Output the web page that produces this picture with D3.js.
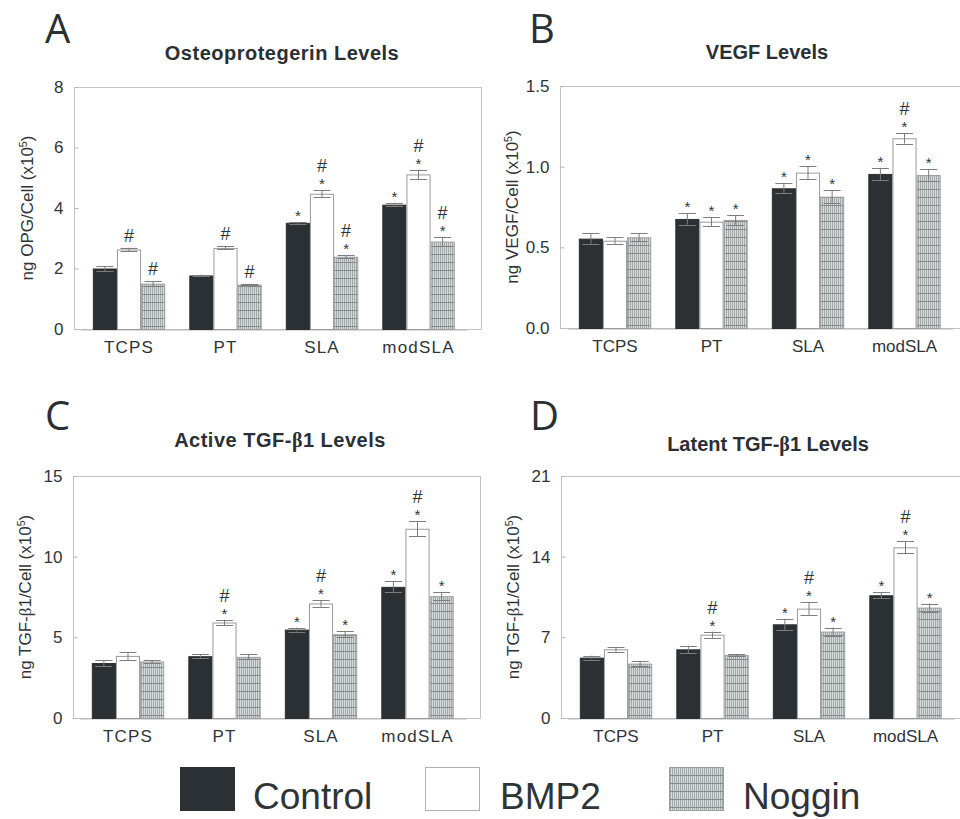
<!DOCTYPE html>
<html>
<head>
<meta charset="utf-8">
<script src="https://cdnjs.cloudflare.com/ajax/libs/d3/7.8.5/d3.min.js"></script>
<style>
  body { margin: 0; background: #fff; }
  text { font-family: "Liberation Sans", Arial, sans-serif; }
</style>
</head>
<body>
<div id="chart"></div>
<script>
// categories and groups
var categories = ["TCPS", "PT", "SLA", "modSLA"];
var series = ["Control", "BMP2", "Noggin"];

// each row = one category, [Control, BMP2, Noggin]
var opgMean = [[2.00, 2.63, 1.50], [1.77, 2.68, 1.47], [3.51, 4.47, 2.39], [4.11, 5.11, 2.89]];
var opgErr  = [[0.08, 0.06, 0.08], [0.03, 0.05, 0.03], [0.03, 0.11, 0.05], [0.06, 0.16, 0.16]];
var opgMarks = [["", "#", "#"], ["", "#", "#"], ["*", "*#", "*#"], ["*", "*#", "*#"]];

var vegfMean = [[0.554, 0.541, 0.562], [0.676, 0.659, 0.670], [0.866, 0.963, 0.814], [0.955, 1.176, 0.948]];
var vegfErr  = [[0.033, 0.020, 0.025], [0.035, 0.027, 0.030], [0.031, 0.040, 0.041], [0.037, 0.033, 0.035]];
var vegfMarks = [["", "", ""], ["*", "*", "*"], ["*", "*", "*"], ["*", "*#", "*"]];

var activeMean = [[3.41, 3.85, 3.50], [3.83, 5.92, 3.79], [5.48, 7.10, 5.19], [8.13, 11.73, 7.55]];
var activeErr  = [[0.20, 0.25, 0.10], [0.14, 0.17, 0.15], [0.12, 0.20, 0.20], [0.35, 0.45, 0.23]];
var activeMarks = [["", "", ""], ["", "*#", ""], ["*", "*#", "*"], ["*", "*#", "*"]];

var latentMean = [[5.24, 5.96, 4.72], [5.96, 7.23, 5.47], [8.13, 9.49, 7.50], [10.65, 14.81, 9.58]];
var latentErr  = [[0.17, 0.23, 0.23], [0.32, 0.26, 0.09], [0.49, 0.55, 0.35], [0.26, 0.52, 0.35]];
var latentMarks = [["", "", ""], ["", "*#", ""], ["*", "*#", "*"], ["*", "*#", "*"]];

// tick labels
var opgTicks = [0, 2, 4, 6, 8];
var vegfTicks = [0, 0.5, 1.0, 1.5];
var activeTicks = [0, 5, 10, 15];
var latentTicks = [0, 7, 14, 21];

var svgWidth = 960;
var svgHeight = 819;

var svg = d3.select("#chart")
  .append("svg")
  .attr("width", svgWidth)
  .attr("height", svgHeight);

var darkFill = "#2a3033";
var textColor = "#2f3437";

// Noggin fill: fine grey grid
var defs = svg.append("defs");
var pat = defs.append("pattern")
  .attr("id", "grid")
  .attr("patternUnits", "userSpaceOnUse")
  .attr("width", 2)
  .attr("height", 8);
pat.append("rect").attr("width", 2).attr("height", 8).attr("fill", "#d6dada");
pat.append("rect").attr("width", 1).attr("height", 8).attr("fill", "#a2a9a9");
pat.append("rect").attr("y", 7).attr("width", 2).attr("height", 1).attr("fill", "#838a8a");

var fills = [darkFill, "#ffffff", "url(#grid)"];
var strokes = [darkFill, "#9a9a9a", "#9a9f9f"];

var panels = [
  { letter: "A", title: "Osteoprotegerin Levels", ylabel: "ng OPG/Cell (x10^5)",
    mean: opgMean, err: opgErr, marks: opgMarks, ticks: opgTicks, fmt: d3.format("d"),
    left: 74, top: 87, bottom: 329, lx: 45, ly: 43, tx: 282, ty: 60, yl: 27, stretch: 1.2 },
  { letter: "B", title: "VEGF Levels", ylabel: "ng VEGF/Cell (x10^5)",
    mean: vegfMean, err: vegfErr, marks: vegfMarks, ticks: vegfTicks, fmt: d3.format(".1f"),
    left: 560, top: 86, bottom: 328, lx: 529, ly: 43, tx: 767, ty: 59, yl: 512, stretch: 0 },
  { letter: "C", title: "Active TGF-β1 Levels", ylabel: "ng TGF-β1/Cell (x10^5)",
    mean: activeMean, err: activeErr, marks: activeMarks, ticks: activeTicks, fmt: d3.format("d"),
    left: 73, top: 476, bottom: 718, lx: 45, ly: 430, tx: 280, ty: 447, yl: 25, stretch: 1.2 },
  { letter: "D", title: "Latent TGF-β1 Levels", ylabel: "ng TGF-β1/Cell (x10^5)",
    mean: latentMean, err: latentErr, marks: latentMarks, ticks: latentTicks, fmt: d3.format("d"),
    left: 561, top: 476, bottom: 718, lx: 530, ly: 430, tx: 768, ty: 451, yl: 513, stretch: 0 }
];

// writes text with a serif beta and a superscript 5
function richText(sel, str) {
  str.split(/(β|\^5)/).forEach(function(p) {
    if (!p) return;
    if (p === "β") {
      sel.append("tspan").attr("font-family", "'Liberation Serif', 'DejaVu Serif', serif").text("β");
    } else if (p === "^5") {
      sel.append("tspan").attr("baseline-shift", "super").attr("font-size", "0.62em").text("5");
    } else {
      sel.append("tspan").text(p);
    }
  });
}

var frameW = 407;

panels.forEach(function(p) {
  var g = svg.append("g").attr("transform", `translate(${p.left}, ${p.top})`);
  var h = p.bottom - p.top;
  var ymax = p.ticks[p.ticks.length - 1];

  var x0 = d3.scaleBand()
    .domain(categories)
    .range([6.75, 392.75])
    .paddingInner(0.25)
    .paddingOuter(0.125);
  var x1 = d3.scaleBand()
    .domain(series)
    .range([0, x0.bandwidth()]);
  var y = d3.scaleLinear().domain([0, ymax]).range([h, 0]);

  // frame
  g.append("rect")
    .attr("x", 0.5).attr("y", 0.5)
    .attr("width", frameW).attr("height", h)
    .attr("fill", "none")
    .attr("stroke", "#c4c4c4");

  // y axis
  var yAxis = g.append("g")
    .attr("transform", "translate(0.5,0)")
    .call(d3.axisLeft(y).tickValues(p.ticks).tickFormat(p.fmt).tickSizeInner(-4).tickSizeOuter(0).tickPadding(11));
  yAxis.select(".domain").remove();
  yAxis.selectAll("line").attr("stroke", "#b5b5b5");
  yAxis.selectAll("text")
    .attr("font-size", 17)
    .attr("font-family", "'Liberation Sans', Arial, sans-serif")
    .attr("fill", textColor);

  // x axis
  var xAxis = g.append("g")
    .attr("transform", `translate(0, ${h + 0.5})`)
    .call(d3.axisBottom(x0).tickSize(0).tickPadding(11));
  xAxis.select(".domain").attr("stroke", "#b5b5b5");
  xAxis.selectAll("text")
    .attr("font-size", 17)
    .attr("font-family", "'Liberation Sans', Arial, sans-serif")
    .attr("letter-spacing", p.stretch)
    .attr("fill", textColor);

  // bars
  var rows = [];
  categories.forEach(function(c, i) {
    series.forEach(function(s, j) {
      rows.push({ cat: c, ser: s, j: j, v: p.mean[i][j], e: p.err[i][j], m: p.marks[i][j] });
    });
  });

  g.selectAll("rect.bar")
    .data(rows)
    .enter()
    .append("rect")
    .attr("class", "bar")
    .attr("x", d => x0(d.cat) + x1(d.ser) + 0.5)
    .attr("y", d => y(d.v) + 0.5)
    .attr("width", x1.bandwidth() - 1)
    .attr("height", d => h - y(d.v))
    .attr("fill", d => fills[d.j])
    .attr("stroke", d => strokes[d.j])
    .attr("stroke-width", 1);

  // error bars
  var cap = 8.5;
  var eb = g.selectAll("g.err")
    .data(rows)
    .enter()
    .append("g")
    .attr("class", "err")
    .attr("stroke", "#7d7d7d")
    .attr("stroke-width", 1);
  eb.append("line")
    .attr("x1", d => x0(d.cat) + x1(d.ser) + x1.bandwidth() / 2)
    .attr("x2", d => x0(d.cat) + x1(d.ser) + x1.bandwidth() / 2)
    .attr("y1", d => y(d.v + d.e))
    .attr("y2", d => y(d.v - d.e));
  eb.append("line")
    .attr("x1", d => x0(d.cat) + x1(d.ser) + x1.bandwidth() / 2 - cap)
    .attr("x2", d => x0(d.cat) + x1(d.ser) + x1.bandwidth() / 2 + cap)
    .attr("y1", d => Math.round(y(d.v + d.e)) + 0.5)
    .attr("y2", d => Math.round(y(d.v + d.e)) + 0.5);
  eb.append("line")
    .attr("x1", d => x0(d.cat) + x1(d.ser) + x1.bandwidth() / 2 - cap)
    .attr("x2", d => x0(d.cat) + x1(d.ser) + x1.bandwidth() / 2 + cap)
    .attr("y1", d => Math.round(y(d.v - d.e)) + 0.5)
    .attr("y2", d => Math.round(y(d.v - d.e)) + 0.5);

  // significance marks
  rows.forEach(function(d) {
    var cx = x0(d.cat) + x1(d.ser) + x1.bandwidth() / 2;
    var top = y(d.v + d.e);
    if (d.m.indexOf("*") >= 0) {
      g.append("text")
        .attr("x", cx).attr("y", top - 1)
        .attr("text-anchor", "middle")
        .attr("font-size", 15)
        .attr("fill", textColor)
        .text("*");
    }
    if (d.m.indexOf("#") >= 0) {
      g.append("text")
        .attr("x", cx).attr("y", d.m.length > 1 ? top - 18 : top - 6)
        .attr("text-anchor", "middle")
        .attr("font-size", 18)
        .attr("fill", textColor)
        .text("#");
    }
  });

  // panel letter
  svg.append("text")
    .attr("x", p.lx).attr("y", p.ly)
    .attr("font-size", 40)
    .attr("fill", "#2a2f33")
    .style("font-family", "'Open Sans', sans-serif")
    .text(p.letter);

  // title
  var t = svg.append("text")
    .attr("x", p.tx).attr("y", p.ty)
    .attr("text-anchor", "middle")
    .attr("font-size", 20)
    .attr("font-weight", "bold")
    .attr("letter-spacing", p.stretch ? 0.5 : 0)
    .attr("fill", "#2a2f33");
  richText(t, p.title);

  // y label
  var yl = svg.append("text")
    .attr("transform", `translate(${p.yl + 6}, ${(p.top + p.bottom) / 2}) rotate(-90)`)
    .attr("text-anchor", "middle")
    .attr("font-size", 17)
    .attr("fill", textColor);
  richText(yl, p.ylabel);
});

// legend
var legendX = [180, 425, 669];
var legendText = [253, 500, 743];
var lg = svg.append("g");
series.forEach(function(s, j) {
  lg.append("rect")
    .attr("x", legendX[j] + 0.5).attr("y", 767.5)
    .attr("width", 54).attr("height", 43)
    .attr("fill", fills[j])
    .attr("stroke", j === 1 ? "#b0b0b0" : strokes[j]);
  lg.append("text")
    .attr("x", legendText[j]).attr("y", 809)
    .attr("font-size", 37)
    .attr("fill", textColor)
    .text(s);
});
</script>
</body>
</html>
